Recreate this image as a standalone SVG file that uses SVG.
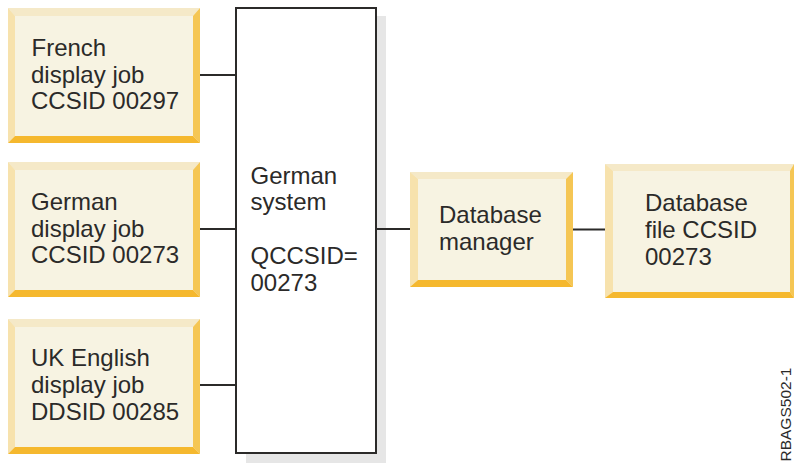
<svg xmlns="http://www.w3.org/2000/svg" width="794" height="463" viewBox="0 0 794 463">
<style>
.t{font-family:"Liberation Sans",Arial,sans-serif;font-size:24px;fill:#2b2a29}
.f{fill:#f7f3e2}.a{fill:#f5e9c8}.l{fill:#f7e2ad}.r{fill:#f5c654}.b{fill:#f5b82e}
.c{stroke:#2b2a29;stroke-width:2;fill:none}
</style>
<rect width="794" height="463" fill="#fff"/>
<g id="french">
<rect class="f" x="8" y="8" width="192" height="135"/>
<polygon class="a" points="8,8 200,8 193,16 15,16"/><polygon class="l" points="8,8 15,16 15,136 8,143"/><polygon class="r" points="200,8 200,143 193,136 193,16"/><polygon class="b" points="8,143 15,136 193,136 200,143"/>
<text class="t" x="31.500" y="56">French</text><text class="t" x="31" y="83">display job</text><text class="t" x="31" y="109">CCSID 00297</text>
</g>
<g id="german">
<rect class="f" x="8" y="162" width="192" height="135"/>
<polygon class="a" points="8,162 200,162 193,170 15,170"/><polygon class="l" points="8,162 15,170 15,290 8,297"/><polygon class="r" points="200,162 200,297 193,290 193,170"/><polygon class="b" points="8,297 15,290 193,290 200,297"/>
<text class="t" x="31" y="210">German</text><text class="t" x="31" y="237">display job</text><text class="t" x="31" y="263">CCSID 00273</text>
</g>
<g id="uk">
<rect class="f" x="8" y="319" width="192" height="135"/>
<polygon class="a" points="8,319 200,319 193,327 15,327"/><polygon class="l" points="8,319 15,327 15,447 8,454"/><polygon class="r" points="200,319 200,454 193,447 193,327"/><polygon class="b" points="8,454 15,447 193,447 200,454"/>
<text class="t" x="31" y="366">UK English</text><text class="t" x="31" y="393">display job</text><text class="t" x="31" y="420">DDSID 00285</text>
</g>
<g id="system">
<rect x="246" y="16" width="140" height="447" fill="#e6e6e6"/>
<rect x="236" y="8" width="140" height="445" fill="#fff" stroke="#2b2a29" stroke-width="2"/>
<text class="t" x="250.500" y="184">German</text><text class="t" x="250.500" y="210">system</text><text class="t" x="250.500" y="264">QCCSID=</text><text class="t" x="250.500" y="291">00273</text>
</g>
<g id="manager">
<rect class="f" x="410" y="172" width="163" height="115"/>
<polygon class="a" points="410,172 573,172 566,179 418,179"/><polygon class="l" points="410,172 418,179 418,280 410,287"/><polygon class="r" points="573,172 573,287 566,280 566,179"/><polygon class="b" points="410,287 418,280 566,280 573,287"/>
<text class="t" x="439" y="223">Database</text><text class="t" x="439" y="250">manager</text>
</g>
<g id="file">
<rect class="f" x="605" y="164" width="189" height="134"/>
<polygon class="a" points="605,164 794,164 790,171 613,171"/><polygon class="l" points="605,164 613,171 613,292 605,298"/><polygon class="r" points="794,164 794,298 790,292 790,171"/><polygon class="b" points="605,298 613,292 790,292 794,298"/>
<text class="t" x="645" y="211">Database</text><text class="t" x="645" y="238">file CCSID</text><text class="t" x="645" y="265">00273</text>
</g>
<g id="connectors">
<path class="c" d="M200 75H235M200 229H235M200 385H235M377 229H410M573 229.500H605"/>
</g>
<text transform="translate(790.500 461.500) rotate(-90)" font-family="'Liberation Sans',Arial,sans-serif" font-size="15.500" fill="#2b2a29">RBAGS502-1</text>
</svg>
